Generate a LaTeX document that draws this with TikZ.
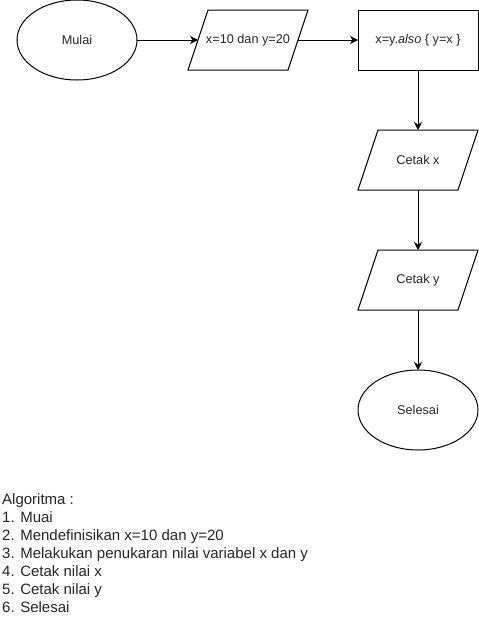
\documentclass[tikz,border=0pt]{standalone}
\usepackage{fontspec}
\setmainfont{Liberation Sans}
\usetikzlibrary{shapes.geometric,arrows.meta}
\begin{document}
\begin{tikzpicture}[x=1pt,y=-1pt,
  base/.style={line width=1pt,inner sep=0pt,outer sep=0pt,
    font=\fontsize{12.7}{14}\selectfont,text=black!85},
  term/.style={base,draw=black,ellipse,minimum width=120pt,minimum height=80pt},
  io/.style={base,rectangle,minimum width=120pt,minimum height=60pt},
  proc/.style={base,draw=black,rectangle,minimum width=120pt,minimum height=60pt},
  para/.style={line width=1pt,line join=miter},
  arr/.style={line width=1pt,-{Stealth[length=8pt,width=8pt,inset=2.5pt]}}]
\useasboundingbox (0,0) rectangle (479,621);
\node[term] (mulai) at (77,40) {Mulai};
\node[io] (def) at (248,40) {x=10 dan y=20};
\draw[para] (def.south west) -- ([xshift=20pt]def.north west) -- (def.north east)
  -- ([xshift=-20pt]def.south east) -- cycle;
\coordinate (defw) at ([xshift=10pt]def.west);
\coordinate (defe) at ([xshift=-10pt]def.east);
\node[proc] (swap) at (418,40) {x=y.\textit{also} \{ y=x \}};
\node[io] (cx) at (418,160) {Cetak x};
\draw[para] (cx.south west) -- ([xshift=20pt]cx.north west) -- (cx.north east)
  -- ([xshift=-20pt]cx.south east) -- cycle;
\node[io] (cy) at (418,280) {Cetak y};
\draw[para] (cy.south west) -- ([xshift=20pt]cy.north west) -- (cy.north east)
  -- ([xshift=-20pt]cy.south east) -- cycle;
\node[term] (selesai) at (418,410) {Selesai};
\draw[arr] (mulai) -- (defw);
\draw[arr] (defe) -- (swap);
\draw[arr] (swap) -- (cx);
\draw[arr] (cx) -- (cy);
\draw[arr] (cy) -- (selesai);
\node[anchor=north west,inner sep=0pt,align=left,text=black!85,
  font=\fontsize{15}{18}\selectfont] (algo) at (2,493) {Algoritma :\\
1. Muai\\
2. Mendefinisikan x=10 dan y=20\\
3. Melakukan penukaran nilai variabel x dan y\\
4. Cetak nilai x\\
5. Cetak nilai y\\
6. Selesai};
\end{tikzpicture}
\end{document}
